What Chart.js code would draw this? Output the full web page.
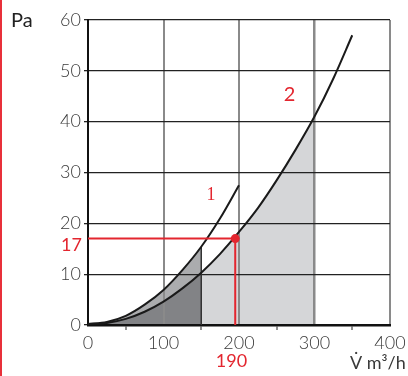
<!DOCTYPE html>
<html>
<head>
<meta charset="utf-8">
<script src="https://cdn.jsdelivr.net/npm/chart.js@4"></script>
<style>
  body { margin: 0; background: #fff; }
  #wrap { position: relative; width: 408px; height: 376px; }
  #edge { position: absolute; left: 0; top: 0; width: 1.5px; height: 376px; background: #e8303a; }
</style>
</head>
<body>
<div id="wrap">
  <canvas id="chart" width="408" height="376"></canvas>
  <div id="edge"></div>
</div>
<script>
// curve 1 (steeper) and curve 2, flow in m3/h, pressure in Pa
const flow1 = [0, 25, 50, 75, 100, 125, 150, 175, 200]
const pa1 = [0.2, 0.6, 1.8, 4.0, 6.9, 10.8, 15.4, 21.0, 27.5]
const flow2 = [0, 25, 50, 75, 100, 125, 150, 175, 200, 225, 250, 275, 300, 325, 350]
const pa2 = [0.2, 0.4, 1.2, 2.6, 4.6, 7.2, 10.3, 14.0, 18.3, 23.0, 28.5, 34.5, 41.0, 48.5, 57.0]

// operating point and its labels
const opFlow = 195
const opPa = 17
const opFlowLabel = '190'
const opPaLabel = '17'

// shaded ranges
const darkUpTo = 150
const lightUpTo = 300

const xTicks = [0, 100, 200, 300, 400]
const yTicks = [0, 10, 20, 30, 40, 50, 60]

const red = '#e3262f'
const ink = '#3a3a3a'

const pts = (xs, ys) => xs.map((x, i) => ({ x: x, y: ys[i] }))
const range = (xs, ys, lo, hi) => pts(xs, ys).filter(p => p.x >= lo && p.x <= hi)

const curve1 = pts(flow1, pa1)
const curve2 = pts(flow2, pa2)
const edgeTop = pa1[flow1.indexOf(darkUpTo)]

const labels = [
    { text: '1', x: 163, y: 25.5, font: '18px "Liberation Serif"', color: red, align: 'center' },
    { text: '2', x: 267, y: 45.3, font: '20px Lato, "Open Sans", sans-serif', color: red, align: 'center' }
]

const annotate = {
    id: 'annotate',
    afterDraw(chart) {
        const { ctx, scales: { x, y } } = chart
        ctx.save()
        ctx.textBaseline = 'middle'
        labels.forEach(l => {
            ctx.font = l.font
            ctx.fillStyle = l.color
            ctx.textAlign = l.align
            ctx.fillText(l.text, x.getPixelForValue(l.x), y.getPixelForValue(l.y))
        })
        ctx.font = '18px Lato, "Open Sans", sans-serif'
        ctx.fillStyle = red
        ctx.textAlign = 'right'
        ctx.fillText(opPaLabel, x.left - 6, y.getPixelForValue(opPa) + 7)
        ctx.textAlign = 'center'
        ctx.fillText(opFlowLabel, x.getPixelForValue(190), y.bottom + 36)
        ctx.fillStyle = '#222'
        ctx.font = '20px Lato, "Open Sans", sans-serif'
        ctx.textAlign = 'left'
        ctx.fillText('Pa', 11, y.top + 1)
        ctx.fillStyle = ink
        ctx.font = '18px Lato, "Open Sans", sans-serif'
        ctx.fillText('V\u0307 m\u00b3/h', x.right - 40, y.bottom + 38)
        ctx.restore()
    }
}

const tickFont = { family: 'Lato, "Open Sans", sans-serif', size: 18, weight: '300' }

new Chart(document.getElementById('chart'), {
    type: 'line',
    data: {
        datasets: [
            {
                data: [{ x: 0, y: opPa }, { x: opFlow, y: opPa }, { x: opFlow, y: 0 }],
                borderColor: red, borderWidth: 2, backgroundColor: red,
                pointRadius: ctx => ctx.dataIndex === 1 ? 4.5 : 0, pointBorderWidth: 0,
                fill: false, tension: 0
            },
            {
                data: curve1, borderColor: '#1a1a1a', borderWidth: 2, pointRadius: 0,
                fill: false, cubicInterpolationMode: 'monotone'
            },
            {
                data: curve2, borderColor: '#1a1a1a', borderWidth: 2, pointRadius: 0,
                fill: false, cubicInterpolationMode: 'monotone'
            },
            {
                data: range(flow2, pa2, 0, darkUpTo), borderWidth: 0, pointRadius: 0,
                fill: 'origin', backgroundColor: '#828386', cubicInterpolationMode: 'monotone'
            },
            {
                data: range(flow1, pa1, 0, darkUpTo), borderWidth: 0, pointRadius: 0,
                fill: 'origin', backgroundColor: '#abacae', cubicInterpolationMode: 'monotone'
            },
            {
                data: range(flow2, pa2, darkUpTo, lightUpTo), borderWidth: 0, pointRadius: 0,
                fill: 'origin', backgroundColor: '#d5d6d8', cubicInterpolationMode: 'monotone'
            },
            {
                data: [{ x: darkUpTo, y: 0 }, { x: darkUpTo, y: edgeTop }],
                borderColor: '#333', borderWidth: 1.5, pointRadius: 0, fill: false
            }
        ]
    },
    options: {
        responsive: false,
        animation: false,
        devicePixelRatio: 1,
        layout: { padding: { top: 20, right: 18, left: 0, bottom: 0 } },
        plugins: {
            legend: { display: false },
            tooltip: { enabled: false },
            filler: { drawTime: 'beforeDraw' }
        },
        scales: {
            x: {
                type: 'linear', min: 0, max: 400,
                afterFit: s => { s.height = 51 },
                afterBuildTicks: s => { s.ticks = [0, 50, 100, 150, 200, 250, 300, 350, 400].map(v => ({ value: v })) },
                ticks: {
                    color: ink, font: tickFont, padding: 2, maxRotation: 0, autoSkip: false,
                    callback: v => xTicks.includes(v) ? String(v) : ''
                },
                grid: {
                    color: ctx => (ctx.tick && ctx.tick.value % 100 === 0 && ctx.tick.value > 0) ? '#8a8a8a' : 'rgba(0,0,0,0)',
                    lineWidth: ctx => (ctx.tick && ctx.tick.value === 300) ? 2.5 : 2,
                    tickColor: ctx => (ctx.tick && ctx.tick.value % 100 !== 0) ? '#222' : 'rgba(0,0,0,0)',
                    tickLength: 5, tickWidth: 1
                },
                border: { color: '#111', width: 2.5 }
            },
            y: {
                type: 'linear', min: 0, max: 60,
                afterFit: s => { s.width = 88 },
                afterBuildTicks: s => { s.ticks = yTicks.map(v => ({ value: v })) },
                ticks: { color: ink, font: tickFont, padding: 3 },
                grid: {
                    color: ctx => (ctx.tick && ctx.tick.value > 0) ? '#222' : 'rgba(0,0,0,0)',
                    lineWidth: 1.3,
                    tickColor: '#222', tickLength: 4
                },
                border: { color: '#111', width: 2 }
            }
        }
    },
    plugins: [annotate]
})
</script>
</body>
</html>
